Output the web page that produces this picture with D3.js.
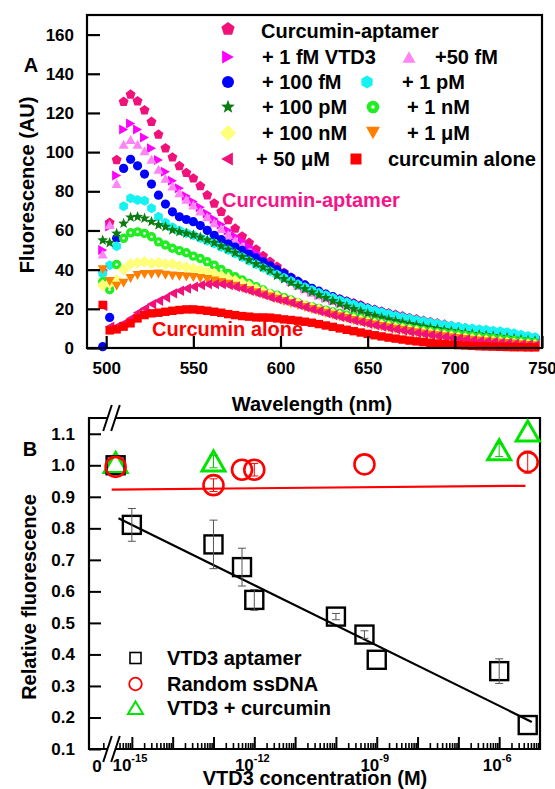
<!DOCTYPE html>
<html><head><meta charset="utf-8">
<script src="https://cdn.jsdelivr.net/npm/d3@7"></script>
<style>
body{margin:0;background:#fff}
svg text{font-family:"Liberation Sans",Arial,sans-serif;font-weight:bold;fill:#000}
</style></head><body>
<svg id="c" width="555" height="789"></svg>
<script>
// ---------- Panel A data ----------
const wavelengths=[498,502,506,510,514,518,522,526,530,534,538,542,546,550,554,558,562,566,570,574,578,582,586,590,594,598,602,606,610,614,618,622,626,630,634,638,642,646,650,654,658,662,666,670,674,678,682,686,690,694,698,702,706,710,714,718,722,726,730,734,738,742,746];
const curcuminAptamer=[39,64,96,125.7,129.4,126,121.4,115.5,109,102,97.3,92.9,89.4,86.6,82.7,78,73.8,69.6,65.3,61,57,53.7,50.3,47,44,41.5,38.5,36,34,32,30,28.6,27.3,26.1,25,23.9,22.9,21.9,20.5,19.6,18.7,17.8,17,16.2,15.4,14.7,14,13.3,12.6,12,11.3,10.7,10.1,9.6,9.1,8.6,8.1,7.6,7.1,6.6,6.1,5.6,5.1];
const vtd3_1fM=[50,62,88,111.6,114.6,111.6,107.5,102,96,90,85.4,81.5,77.6,74.7,71.8,68.7,65.8,63,60,57,54.5,51.5,48.5,45.5,42.5,40,37.5,35,33,31,28.8,27.3,25.9,24.6,23.4,22.3,21.2,20.2,19.2,18.3,17.4,16.6,15.8,15,14.3,13.6,12.9,12.3,11.7,11.1,10.5,10,9.5,9,8.5,8,7.6,7.1,6.7,6.3,5.9,5.5,5.1];
const vtd3_50fM=[48,63,84,104,106.5,104,100.7,96.3,91.2,86.6,82.7,79.2,75.9,73,70,67,64,61,58,55,52,49,46,43.3,40.8,38.4,36.2,34,32,30.2,28.5,27,25.6,24.3,23.1,22,21,20,19,18.2,17.3,16.5,15.7,15,14.3,13.6,13,12.4,11.8,11.2,10.7,10.2,9.7,9.2,8.7,8.3,7.8,7.4,7,6.6,6.2,5.8,5.4];
const vtd3_100fM=[0.7,15.6,56,91.7,96.3,93,88.8,83.7,78,73.5,69.5,67,65.6,64.5,62.5,60,57.5,55.3,53.2,51.5,49.8,48,46,44,42,40,38,36,34,32.2,30.5,29,27.5,26.2,24.9,23.7,22.5,21.4,20.3,19.3,18.3,17.4,16.5,15.7,14.9,14.1,13.4,12.7,12,11.4,10.8,10.2,9.7,9.2,8.7,8.2,7.8,7.3,6.9,6.4,6,5.6,5.2];
const vtd3_1pM=[38,42.3,52,72.4,76.4,75.5,75.2,71.3,67,63.9,61.6,60,58.7,57.6,56.2,54.8,53.3,51.6,50,48.2,46.4,44.6,42.8,41,39.2,37.5,35.8,34.2,32.6,31,29.6,28.2,26.9,25.6,24.4,23.3,22.2,21.1,20.1,19.1,18.2,17.3,16.5,15.7,15,14.3,13.6,13,12.4,11.8,11.3,10.8,10.4,10,9.6,9.3,8.8,8.5,8.1,7.5,6.8,6.1,5.5];
const vtd3_100pM=[55,53.7,58.5,63.6,66.7,67,66.2,64.5,62.8,61.9,60.2,59.3,58.5,57.7,56.5,55.1,53.7,52,50.3,48.6,46.6,44.9,42.9,41.2,39.5,37,35.2,33.4,31.7,30.1,28.5,27,25.5,24,22.6,21.2,19.9,18.7,17.5,16.5,15.5,14.6,13.8,13,12.3,11.6,10.9,10.3,9.7,9.1,8.6,8.1,7.6,7.2,6.8,6.4,6,5.6,5.2,4.8,4.4,4,3.6];
const vtd3_1nM=[33.8,29.8,42.6,56,58.8,59.3,58.5,56.8,54.2,52.6,50.9,49.7,48.6,46.9,45.7,44,42.3,40.1,38,36.4,34.7,33,31.3,29.6,27.9,27,25.8,24.5,23.1,21.9,21.1,20.2,19.3,18.4,17.6,16.8,16,15.2,14,13.3,12.6,11.9,11.2,10.6,10,9.5,9,8.5,8,7.6,7.2,6.8,6.4,6,5.6,5.3,5,4.6,4.2,3.8,3.4,3.1,2.7];
const vtd3_100nM=[32,33,34.7,40.1,42.9,43.5,44,43.2,43.5,42.9,42.9,41.8,41.2,40.6,39.8,38.9,38,36.7,35.5,34.3,33,31.6,30,28.7,27.5,26.2,24.9,23.8,22.7,21.6,20.5,19.5,18.5,17.5,16.6,15.7,14.8,14,13.2,12.4,11.7,11,10.3,9.7,9.1,8.5,7.9,7.4,6.9,6.4,5.9,5.4,5,4.6,4.2,3.8,3.4,3,2.7,2.4,2.1,1.8,1.5];
const vtd3_1uM=[40,34,31.5,33,35.5,37,37.5,37.5,37.8,37.2,36.8,36.5,36.2,36,35.5,35,34.2,33.5,32.5,31.5,30.4,29.3,28.2,27.1,26,24.9,23.8,22.7,21.7,20.7,19.7,18.7,17.7,16.8,15.9,15,14.1,13.3,12.5,11.7,11,10.3,9.6,9,8.4,7.8,7.2,6.7,6.2,5.7,5.2,4.8,4.4,4,3.6,3.2,2.9,2.6,2.3,2,1.7,1.4,1.2];
const vtd3_50uM=[21.4,10.9,11,12.6,15.1,18,20.2,22.4,24.1,25.8,27.9,29.2,30.4,31.3,32.1,32.6,32.6,32.6,32.1,31.3,30.4,29.2,28.2,27,25.8,24.8,24.1,23.1,21.9,20.8,19.7,18.7,17.7,16.7,15.8,14.9,14,13.2,12.4,11.6,10.9,10.2,9.5,8.9,8.3,7.7,7.1,6.6,6.1,5.6,5.1,4.7,4.3,3.9,3.5,3.2,2.9,2.6,2.3,2,1.8,1.6,1.4];
const curcuminAlone=[22,9,9.5,10.9,12.6,15.1,16.8,17.7,18,18.5,19,19.4,19.7,19.7,19.4,19,18.5,18,17.3,16.8,16.3,16,15.6,15.6,15.5,15.1,14.6,14.3,13.9,13.4,12.9,12.2,11.5,10.8,10,9.3,8.6,7.9,7.2,6.5,5.9,5.3,4.8,4.3,3.8,3.4,3,2.6,2.3,2,1.7,1.5,1.3,1.1,0.9,0.8,0.7,0.6,0.5,0.4,0.4,0.3,0.3];
const seriesNamesA=["Curcumin-aptamer","+ 1 fM VTD3","+50 fM","+ 100 fM","+ 1 pM","+ 100 pM","+ 1 nM","+ 100 nM","+ 1 \u03bcM","+ 50 \u03bcM","curcumin alone"];
const xTicksA=[500,550,600,650,700,750];
const yTicksA=[0,20,40,60,80,100,120,140,160];

// ---------- Panel B data ----------
const aptamerConc=[4e-16,1e-15,1e-13,5e-13,1e-12,1e-10,5e-10,1e-9,1e-6,5e-6];
const aptamerRel=[1.0,0.811,0.749,0.677,0.573,0.52,0.463,0.383,0.347,0.176];
const aptamerErr=[0,0.052,0.077,0.06,0.033,0.01,0.012,0,0.039,0];
const randomConc=[4e-16,1e-13,5e-13,1e-12,5e-10,5e-6];
const randomRel=[0.995,0.937,0.986,0.986,1.003,1.01];
const randomErr=[0,0.02,0,0.02,0,0.035];
const curcConc=[4e-16,1e-13,1e-6,5e-6];
const curcRel=[1.007,1.012,1.048,1.107];
const curcErr=[0,0.02,0.02,0];
const aptamerFitConc=[4.7e-16,6.3e-6];
const aptamerFitRel=[0.832,0.186];
const randomFitConc=[3.2e-16,4.4e-6];
const randomFitRel=[0.923,0.935];
const yTicksB=[0.1,0.2,0.3,0.4,0.5,0.6,0.7,0.8,0.9,1.0,1.1];
const xDecadeLabelsB=[-15,-12,-9,-6];
const legendB=["VTD3 aptamer","Random ssDNA","VTD3 + curcumin"];

// ---------- helpers ----------
const svg=d3.select('#c');

function poly(pts){return 'M'+pts.map(p=>p[0].toFixed(2)+','+p[1].toFixed(2)).join('L')+'Z';}
function reg(n,r,rot){return poly(d3.range(n).map(k=>{const a=rot+k*2*Math.PI/n;return [r*Math.cos(a),r*Math.sin(a)];}));}
function shape(t,r){
  switch(t){
    case 'pentagon': return reg(5,r,-Math.PI/2);
    case 'hexagon': return reg(6,r,-Math.PI/2);
    case 'triR': return poly([[0.9*r,0],[-0.9*r,-r],[-0.9*r,r]]);
    case 'triL': return poly([[-0.9*r,0],[0.9*r,-r],[0.9*r,r]]);
    case 'triU': return poly([[0,-0.9*r],[r,0.9*r],[-r,0.9*r]]);
    case 'triD': return poly([[0,0.9*r],[r,-0.9*r],[-r,-0.9*r]]);
    case 'diamond': return poly([[0,-r],[r,0],[0,r],[-r,0]]);
    case 'square': return poly([[-r,-r],[r,-r],[r,r],[-r,r]]);
    case 'star': return poly(d3.range(10).map(k=>{const a=-Math.PI/2+k*Math.PI/5;const rr=k%2?r*0.48:r*1.15;return [rr*Math.cos(a),rr*Math.sin(a)];}));
    default: return d3.symbol(d3.symbolCircle,Math.PI*r*r)();
  }
}
function drawMark(g,S,r,tr){
  g.append('path').attr('d',shape(S.s==='sphere'?'circle':S.s,r)).attr('transform',tr).attr('fill',S.c);
  if(S.s==='sphere') g.append('path').attr('d',shape('circle',r*0.28)).attr('transform',tr).attr('fill','#ffffff');
}

// ---------- Panel A ----------
const xA=d3.scaleLinear().domain([489,750]).range([87,542]);
const yA=d3.scaleLinear().domain([0,170]).range([348,15]);
const seriesA=[
 {v:curcuminAptamer,s:'pentagon',c:'#f0127a',r:5.2,lr:7},
 {v:vtd3_1fM,s:'triR',c:'#ff00ff',r:5,lr:6.5},
 {v:vtd3_50fM,s:'triU',c:'#ff84f5',r:5,lr:6.5},
 {v:vtd3_100fM,s:'circle',c:'#0000ff',r:4.6,lr:6},
 {v:vtd3_1pM,s:'hexagon',c:'#16f2f2',r:5,lr:6.5},
 {v:vtd3_100pM,s:'star',c:'#0b7d10',r:5,lr:6.3},
 {v:vtd3_1nM,s:'sphere',c:'#22ec22',r:4.7,lr:6.3},
 {v:vtd3_100nM,s:'diamond',c:'#ffff7a',r:6,lr:8},
 {v:vtd3_1uM,s:'triD',c:'#ff8000',r:5,lr:7},
 {v:vtd3_50uM,s:'triL',c:'#f0127a',r:5.2,lr:6.5},
 {v:curcuminAlone,s:'square',c:'#ff0000',r:4.2,lr:5.5}
];
const gA=svg.append('g');
seriesA.forEach(S=>{
  const g=gA.append('g');
  wavelengths.forEach((w,i)=>drawMark(g,S,S.r,`translate(${xA(w)},${yA(S.v[i])})`));
});
// axes A
const axLA=svg.append('g').attr('transform','translate(87,0)')
  .call(d3.axisLeft(yA).tickValues(yTicksA).tickSizeInner(-13).tickSizeOuter(0).tickPadding(13));
const axBA=svg.append('g').attr('transform','translate(0,348)')
  .call(d3.axisBottom(xA).tickValues(xTicksA).tickSizeInner(-12).tickSizeOuter(0).tickPadding(14));
[axLA,axBA].forEach(a=>{a.select('.domain').remove();a.selectAll('line').attr('stroke','#000').attr('stroke-width',2.2);a.selectAll('text').style('font-size','17px');});
svg.append('rect').attr('x',87).attr('y',15).attr('width',455).attr('height',333).attr('fill','none').attr('stroke','#000').attr('stroke-width',2.2);
// legend A
const legPos=[[228,261,29,38],[228,262,57,64],[409,435,57,64],[228,262,82,89],[367,402,82,89],[228,262,107,114],[373,407,107,114],[228,262,133,140],[373,407,133,140],[227,256,159,166],[356,388,159,166]];
seriesA.forEach((S,i)=>{
  const p=legPos[i];
  drawMark(svg,S,S.lr,`translate(${p[0]},${p[2]})`);
  svg.append('text').attr('x',p[1]).attr('y',p[3]).style('font-size','20px').text(seriesNamesA[i]);
});
svg.append('text').attr('x',222).attr('y',207).style('font-size','20px').style('fill','#f5148a').text('Curcumin-aptamer');
svg.append('text').attr('x',152).attr('y',336).style('font-size','20px').style('fill','#ff0000').text('Curcumin alone');
svg.append('text').attr('x',31).attr('y',72).attr('text-anchor','middle').style('font-size','20px').text('A');
svg.append('text').attr('transform','translate(34,185) rotate(-90)').attr('text-anchor','middle').style('font-size','20px').text('Fluorescence (AU)');
svg.append('text').attr('x',312).attr('y',411).attr('text-anchor','middle').style('font-size','20px').text('Wavelength (nm)');

// ---------- Panel B ----------
const xB=d3.scaleLog().domain([Math.pow(10,-16.05),1e-5]).range([89,540]);
const yB=d3.scaleLinear().domain([0.1,1.15]).range([749,418]);
const gap=[105,117];
const minorB=[],majorB=[];
for(let e=-16;e<=-6;e++){
  for(let m=2;m<=9;m++){const v=m*Math.pow(10,e),px=xB(v);if(px>100&&px<540&&(px<gap[0]||px>gap[1]+1))minorB.push(v);}
  const v=Math.pow(10,e);if(xB(v)>120&&xB(v)<538)majorB.push(v);
}
const axYB=svg.append('g').attr('transform','translate(89,0)')
  .call(d3.axisLeft(yB).tickValues(yTicksB).tickFormat(d3.format('.1f')).tickSizeInner(-12).tickSizeOuter(0).tickPadding(14));
const axMin=svg.append('g').attr('transform','translate(0,749)')
  .call(d3.axisBottom(xB).tickValues(minorB).tickFormat('').tickSizeInner(-6).tickSizeOuter(0));
const axMaj=svg.append('g').attr('transform','translate(0,749)')
  .call(d3.axisBottom(xB).tickValues(majorB).tickFormat('').tickSizeInner(-12).tickSizeOuter(0));
[axYB,axMin,axMaj].forEach(a=>{a.select('.domain').remove();a.selectAll('line').attr('stroke','#000').attr('stroke-width',2);a.selectAll('text').style('font-size','17px');});
axMin.selectAll('line').attr('stroke-width',1.6);
// frame with breaks
const fr=svg.append('g').attr('stroke','#000').attr('stroke-width',2.2).attr('fill','none');
fr.append('path').attr('d',`M${gap[0]+2},418H89V749H${gap[0]+2}M${gap[1]-1},749H540V418H${gap[1]-1}`);
[418,749].forEach(yy=>{
  [gap[0]+2.5,gap[1]-1.5].forEach(xx=>{
    fr.append('line').attr('x1',xx-4.3).attr('y1',yy+13).attr('x2',xx+4.3).attr('y2',yy-13).attr('stroke-width',2);
  });
});
// decade labels
xDecadeLabelsB.forEach(e=>{
  const t=svg.append('text').attr('x',xB(Math.pow(10,e))-2).attr('y',771).attr('text-anchor','middle').style('font-size','17px');
  t.append('tspan').text('10');
  t.append('tspan').attr('dy',-9).style('font-size','11px').text(String(e));
});
svg.append('text').attr('x',97).attr('y',772).attr('text-anchor','middle').style('font-size','17px').text('0');
// fit lines
const lineB=d3.line().x(d=>xB(d[0])).y(d=>yB(d[1]));
svg.append('path').attr('d',lineB(randomFitConc.map((c,i)=>[c,randomFitRel[i]]))).attr('stroke','#ff0000').attr('stroke-width',2.2).attr('fill','none');
svg.append('path').attr('d',lineB(aptamerFitConc.map((c,i)=>[c,aptamerFitRel[i]]))).attr('stroke','#000').attr('stroke-width',2.2).attr('fill','none');
// error bars
function errBars(conc,rel,err,col){
  const g=svg.append('g').attr('stroke',col).attr('stroke-width',1).attr('fill','none');
  conc.forEach((c,i)=>{ if(!err[i])return; const x=xB(c),y1=yB(rel[i]+err[i]),y2=yB(rel[i]-err[i]);
    g.append('line').attr('x1',x).attr('x2',x).attr('y1',y1).attr('y2',y2);
    g.append('line').attr('x1',x-4).attr('x2',x+4).attr('y1',y1).attr('y2',y1);
    g.append('line').attr('x1',x-4).attr('x2',x+4).attr('y1',y2).attr('y2',y2);
  });
}
// markers
const triPath=poly([[0,-10.5],[11.5,9.5],[-11.5,9.5]]);
svg.append('g').selectAll('path').data(curcConc.map((c,i)=>[c,curcRel[i]])).join('path')
  .attr('d',triPath).attr('transform',d=>`translate(${xB(d[0])},${yB(d[1])})`).attr('fill','none').attr('stroke','#00e400').attr('stroke-width',3);
svg.append('g').selectAll('rect').data(aptamerConc.map((c,i)=>[c,aptamerRel[i]])).join('rect')
  .attr('x',d=>xB(d[0])-9).attr('y',d=>yB(d[1])-9).attr('width',18).attr('height',18).attr('fill','none').attr('stroke','#000').attr('stroke-width',2.4);
svg.append('g').selectAll('circle').data(randomConc.map((c,i)=>[c,randomRel[i]])).join('circle')
  .attr('cx',d=>xB(d[0])).attr('cy',d=>yB(d[1])).attr('r',10).attr('fill','none').attr('stroke','#ff0000').attr('stroke-width',2.6);
errBars(aptamerConc,aptamerRel,aptamerErr,'#555');
errBars(randomConc,randomRel,randomErr,'#ff0000');
errBars(curcConc,curcRel,curcErr,'#00c800');
// legend B
const lgY=[658,684,708];
svg.append('rect').attr('x',130).attr('y',lgY[0]-5.5).attr('width',11).attr('height',11).attr('fill','none').attr('stroke','#000').attr('stroke-width',1.6);
svg.append('circle').attr('cx',135.5).attr('cy',lgY[1]).attr('r',6.3).attr('fill','none').attr('stroke','#ff0000').attr('stroke-width',1.8);
svg.append('path').attr('d',poly([[0,-6.5],[7.5,6],[-7.5,6]])).attr('transform',`translate(135.5,${lgY[2]})`).attr('fill','none').attr('stroke','#00e400').attr('stroke-width',2);
legendB.forEach((t,i)=>svg.append('text').attr('x',167).attr('y',lgY[i]+7).style('font-size','20px').text(t));
svg.append('text').attr('x',30).attr('y',456).attr('text-anchor','middle').style('font-size','20px').text('B');
svg.append('text').attr('transform','translate(36,597) rotate(-90)').attr('text-anchor','middle').style('font-size','20px').text('Relative fluorescence');
svg.append('text').attr('x',315).attr('y',785).attr('text-anchor','middle').style('font-size','20px').text('VTD3 concentration (M)');
</script>
</body></html>
